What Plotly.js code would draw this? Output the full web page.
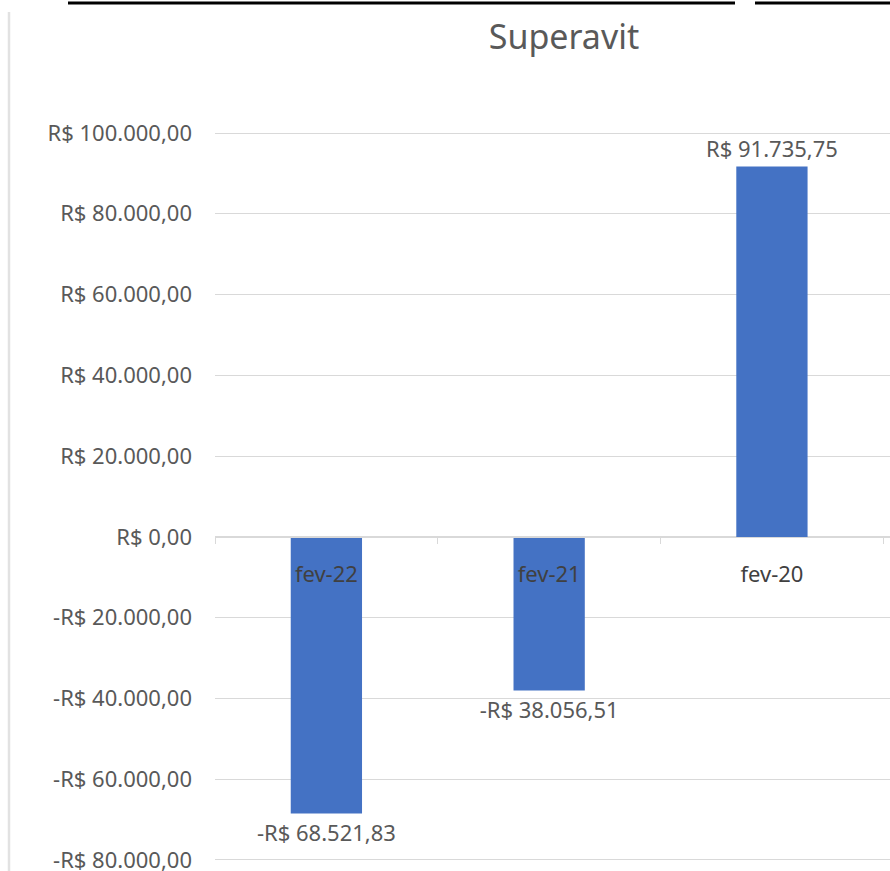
<!DOCTYPE html>
<html>
<head>
<meta charset="utf-8">
<script src="https://cdn.plot.ly/plotly-3.0.1.min.js"></script>
<style>html,body{margin:0;padding:0;background:#fff;}#chart{width:890px;height:871px;}</style>
</head>
<body>
<div id="chart"></div>
<script>
const categories = ["fev-22", "fev-21", "fev-20"];
const superavit = [-68521.83, -38056.51, 91735.75];
const yTickValues = [100000, 80000, 60000, 40000, 20000, 0, -20000, -40000, -60000, -80000];

function formatBRL(v) {
  const neg = v < 0;
  const abs = Math.abs(v);
  const fixed = abs.toFixed(2);
  let [intPart, dec] = fixed.split(".");
  intPart = intPart.replace(/\B(?=(\d{3})+(?!\d))/g, ".");
  return (neg ? "-" : "") + "R$ " + intPart + "," + dec;
}

const FONT = "Noto Sans, Open Sans, sans-serif";
const TXT = "#595959";
const YMIN = -80500, YMAX = 100500;

// plot area pixel geometry
const L = 215, R = 890, T = 131, B = 862;
const px = x => (x - L) / (R - L);
const py = y => (B - y) / (B - T);

const trace = {
  type: "bar",
  x: categories,
  y: superavit,
  marker: { color: "#4472C4" },
  text: superavit.map(formatBRL),
  textposition: "outside",
  constraintext: "none",
  textfont: { family: FONT, size: 22, color: TXT },
  cliponaxis: false,
  hoverinfo: "skip"
};

const layout = {
  width: 890,
  height: 871,
  margin: { l: L, r: 890 - R, t: T, b: 871 - B, pad: 0 },
  paper_bgcolor: "#ffffff",
  plot_bgcolor: "#ffffff",
  showlegend: false,
  bargap: 0.68,
  title: {
    text: "Superavit",
    font: { family: FONT, size: 34, color: TXT },
    xref: "container", x: 564 / 890, xanchor: "center",
    yref: "container", y: 1 - 37 / 871, yanchor: "middle"
  },
  xaxis: {
    type: "category",
    range: [-0.5, 2.53],
    anchor: "free",
    position: (0 - YMIN) / (YMAX - YMIN),
    showline: true,
    linecolor: "#d9d9d9",
    linewidth: 1,
    ticks: "outside",
    tickson: "boundaries",
    ticklen: 6,
    tickcolor: "#d9d9d9",
    showgrid: false,
    zeroline: false,
    tickfont: { family: FONT, size: 22, color: "#404040" },
    ticklabelstandoff: 18,
    fixedrange: true
  },
  yaxis: {
    range: [YMIN, YMAX],
    tickvals: yTickValues,
    ticktext: yTickValues.map(formatBRL),
    showgrid: true,
    gridcolor: "#d9d9d9",
    gridwidth: 1,
    zeroline: false,
    showline: false,
    ticks: "",
    ticklabelstandoff: 22,
    ticklabeloverflow: "allow",
    tickfont: { family: FONT, size: 22, color: TXT },
    fixedrange: true
  },
  shapes: [
    { type: "line", xref: "paper", yref: "paper", x0: px(68), x1: px(735), y0: py(3), y1: py(3), line: { color: "#000000", width: 3 } },
    { type: "line", xref: "paper", yref: "paper", x0: px(755), x1: px(890), y0: py(3), y1: py(3), line: { color: "#000000", width: 3 } },
    { type: "line", xref: "paper", yref: "paper", x0: px(9), x1: px(9), y0: py(12), y1: py(871), line: { color: "#e2e2e2", width: 2.5 } }
  ]
};

Plotly.newPlot("chart", [trace], layout, { staticPlot: true, displayModeBar: false });
</script>
</body>
</html>
